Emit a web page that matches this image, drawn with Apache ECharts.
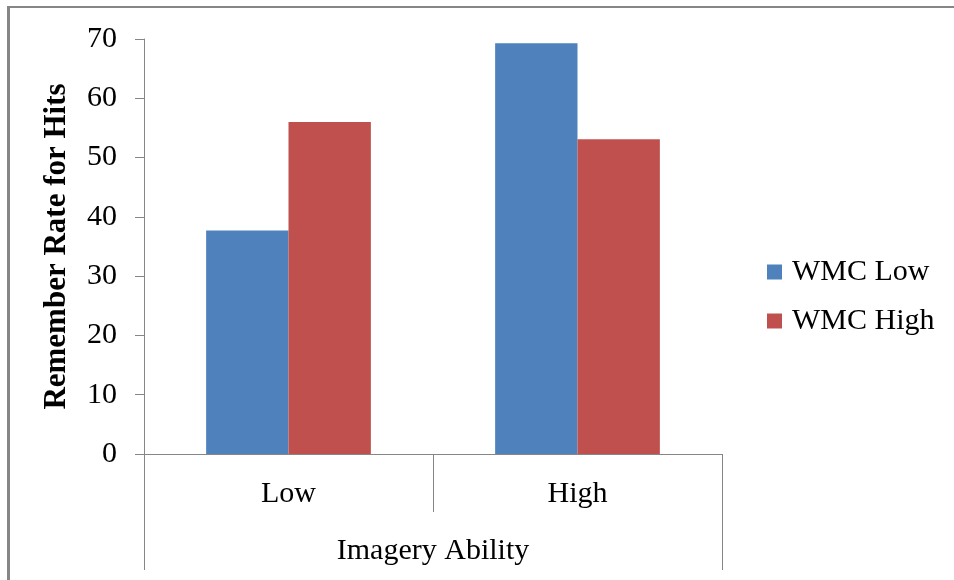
<!DOCTYPE html>
<html>
<head>
<meta charset="utf-8">
<script src="https://cdn.jsdelivr.net/npm/echarts@6/dist/echarts.min.js"></script>
<style>
html, body { margin: 0; padding: 0; background: #fff; }
#main { width: 954px; height: 580px; }
</style>
</head>
<body>
<div id="main"></div>
<script>
var categories = ['Low', 'High'];
var groupLabel = ['Imagery Ability'];
var wmcLow = [37.7, 69.3];
var wmcHigh = [56, 53.1];
var seriesNames = ['WMC Low', 'WMC High'];

var myChart = echarts.init(document.getElementById('main'));
var gray = '#868686';
var font = '"Liberation Serif", "Times New Roman", serif';

var option = {
	animation: false,
	backgroundColor: '#fff',
	textStyle: { fontFamily: font },
	grid: { left: 144, right: 232, top: 39, bottom: 126 },
	legend: {
		orient: 'vertical',
		left: 767,
		top: 257,
		padding: 0,
		itemWidth: 15,
		itemHeight: 15,
		itemGap: 19,
		icon: 'rect',
		textStyle: { fontFamily: font, fontSize: 30, color: '#000', padding: [0, 0, 0, 5] },
		data: seriesNames
	},
	graphic: [
		{ type: 'line', shape: { x1: 7, y1: 7, x2: 954, y2: 7 }, style: { stroke: gray, lineWidth: 2 } },
		{ type: 'line', shape: { x1: 8.5, y1: 6, x2: 8.5, y2: 580 }, style: { stroke: gray, lineWidth: 3 } }
	],
	xAxis: [{
		type: 'category',
		data: categories,
		axisLine: { lineStyle: { color: gray, width: 1 } },
		axisTick: { show: true, interval: 0, length: 58, lineStyle: { color: gray } },
		axisLabel: { fontFamily: font, fontSize: 30, color: '#000', margin: 25 }
	}, {
		type: 'category',
		data: groupLabel,
		position: 'bottom',
		offset: 58,
		axisLine: { show: false },
		axisTick: { show: true, interval: 0, length: 58, lineStyle: { color: gray } },
		axisLabel: { fontFamily: font, fontSize: 30, color: '#000', margin: 24 }
	}],
	yAxis: {
		type: 'value',
		min: 0,
		max: 70,
		interval: 10,
		name: 'Remember Rate for Hits',
		nameLocation: 'middle',
		nameRotate: 90,
		nameGap: 72,
		nameTextStyle: { fontFamily: font, fontSize: 31, fontWeight: 'bold', color: '#000' },
		axisLine: { show: true, lineStyle: { color: gray, width: 1 } },
		axisTick: { show: true, length: 9, lineStyle: { color: gray } },
		splitLine: { show: false },
		axisLabel: { fontFamily: font, fontSize: 30, color: '#000', margin: 27 }
	},
	series: [{
		name: seriesNames[0],
		type: 'bar',
		xAxisIndex: 0,
		barGap: '0%',
		barCategoryGap: '43%',
		itemStyle: { color: '#4F81BD' },
		data: wmcLow
	}, {
		name: seriesNames[1],
		type: 'bar',
		xAxisIndex: 0,
		barGap: '0%',
		barCategoryGap: '43%',
		itemStyle: { color: '#C0504D' },
		data: wmcHigh
	}]
};
myChart.setOption(option);
</script>
</body>
</html>
